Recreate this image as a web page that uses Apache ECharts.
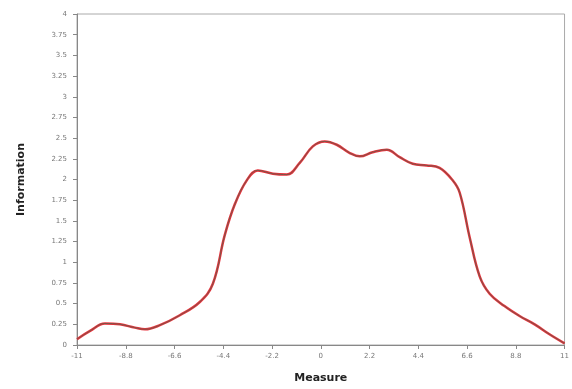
<!DOCTYPE html>
<html><head><meta charset="utf-8">
<script src="https://cdn.jsdelivr.net/npm/echarts@6/dist/echarts.min.js"></script>
<style>html,body{margin:0;padding:0;background:#fff}#c{width:572px;height:389px}</style>
</head><body><div id="c"></div>
<script>
const xValues = [-11.0,-10.41,-9.74,-9.06,-8.39,-7.93,-7.26,-6.36,-5.46,-4.87,-4.33,-3.88,-3.34,-2.84,-2.16,-1.53,-0.95,-0.36,0.18,0.72,1.31,1.76,2.34,2.98,3.56,4.15,4.78,5.36,5.95,6.27,6.72,7.17,7.62,8.29,8.97,9.65,10.32,11.0];
const redValues = [0.07,0.17,0.26,0.25,0.21,0.19,0.24,0.36,0.52,0.74,1.33,1.70,1.99,2.11,2.07,2.06,2.20,2.40,2.46,2.42,2.32,2.28,2.33,2.36,2.27,2.19,2.17,2.14,1.99,1.84,1.30,0.83,0.62,0.47,0.35,0.25,0.13,0.02];
const darkValues = [0.07,0.17,0.26,0.25,0.21,0.19,0.24,0.36,0.52,0.74,1.33,1.70,1.99,2.11,2.07,2.06,2.20,2.40,2.46,2.42,2.32,2.28,2.33,2.36,2.27,2.19,2.17,2.14,1.99,1.84,1.30,0.83,0.62,0.47,0.35,0.25,0.13,0.02];
const xTickLabels = ['-11','-8.8','-6.6','-4.4','-2.2','0','2.2','4.4','6.6','8.8','11'];
const yTickLabels = ['0','0.25','0.5','0.75','1','1.25','1.5','1.75','2','2.25','2.5','2.75','3','3.25','3.5','3.75','4'];

const chart = echarts.init(document.getElementById('c'));
const lbl = {color:'#777', fontSize:7, fontFamily:'DejaVu Sans'};
chart.setOption({
  animation:false,
  grid:{left:77,right:7,top:14,bottom:40,show:true,borderColor:'#aaa',borderWidth:1},
  xAxis:{type:'value',min:-11,max:11,interval:2.2,
    name:'Measure',nameLocation:'middle',nameGap:28,
    nameTextStyle:{fontSize:11,fontWeight:'bold',color:'#222',fontFamily:'DejaVu Sans'},
    axisLine:{onZero:false,lineStyle:{color:'#888'}},axisTick:{show:true,length:4,lineStyle:{color:'#888'}},
    splitLine:{show:false},
    axisLabel:Object.assign({margin:8,formatter:v=>xTickLabels[Math.round((v+11)/2.2)]},lbl)},
  yAxis:{type:'value',min:0,max:4,interval:0.25,
    name:'Information',nameLocation:'middle',nameGap:50,
    nameTextStyle:{fontSize:11,fontWeight:'bold',color:'#222',fontFamily:'DejaVu Sans'},
    axisLine:{show:true,onZero:false,lineStyle:{color:'#888'}},axisTick:{show:true,length:4,lineStyle:{color:'#888'}},
    splitLine:{show:false},
    axisLabel:Object.assign({margin:10,formatter:v=>yTickLabels[Math.round(v/0.25)]},lbl)},
  series:[
    {type:'line',smooth:0.4,symbol:'none',data:xValues.map((x,i)=>[x,redValues[i]]),
     lineStyle:{color:'#e8323c',width:2.5}},
    {type:'line',smooth:0.4,symbol:'none',data:xValues.map((x,i)=>[x,darkValues[i]]),
     lineStyle:{color:'#7a5548',width:1}}
  ]
});
</script></body></html>
